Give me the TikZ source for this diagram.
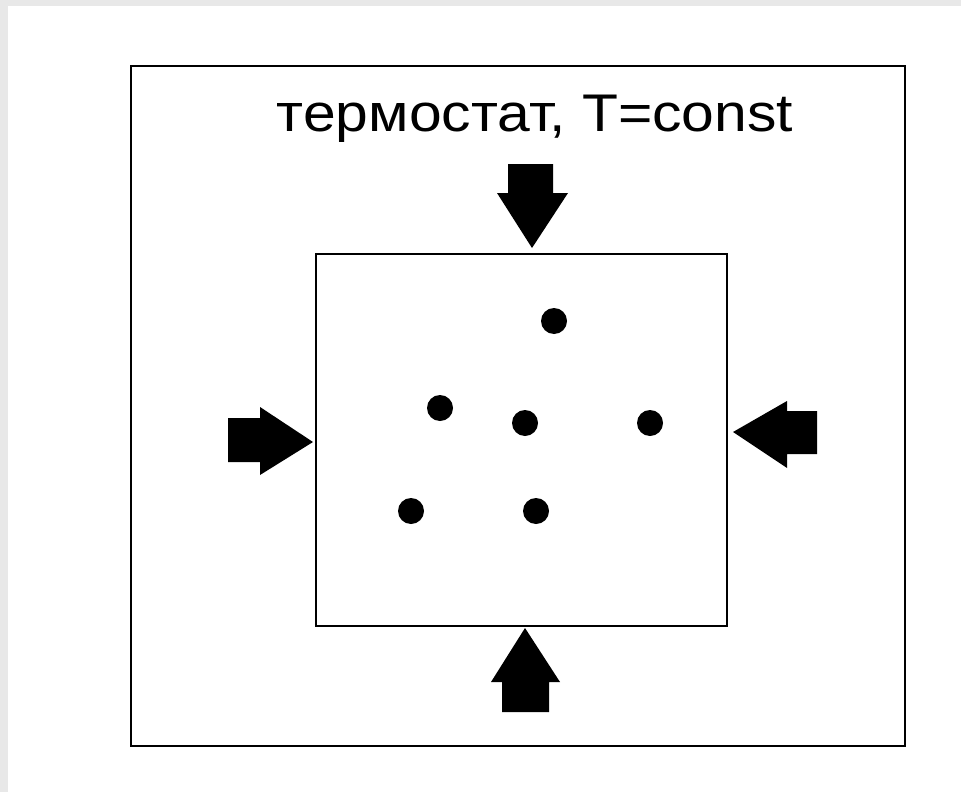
\documentclass[tikz,border=0pt]{standalone}
\usepackage{fontspec}
\setmainfont{Liberation Sans}
\begin{document}
\begin{tikzpicture}[x=1pt,y=-1pt,
  frame/.style={draw=black,line width=2pt},
  blockarrow/.style={fill=black,draw=none},
  particle/.style={circle,fill=black,inner sep=0pt,minimum size=26pt}]
\useasboundingbox (0,0) rectangle (961,792);
\fill[white] (0,0) rectangle (961,792);
% gray page edge
\fill[black!9] (0,0) rectangle (961,6);
\fill[black!9] (0,0) rectangle (8,792);
% thermostat and system
\draw[frame] (131,66) rectangle (905,746);
\draw[frame] (316,254) rectangle (727,626);
\node[font=\fontsize{53}{60}\selectfont,anchor=base,inner sep=0pt] (label) at (535,131) {\scalebox{1.11}[1]{термостат, T=const}};
% arrows
\fill[blockarrow] (508,164) -- (553,164) -- (553,193) -- (568,193) -- (532,248) -- (497,193) -- (508,193) -- cycle;
\fill[blockarrow] (228,418) -- (260,418) -- (260,407) -- (313,442) -- (260,475) -- (260,462) -- (228,462) -- cycle;
\fill[blockarrow] (817,411) -- (787,411) -- (787,401) -- (733,432) -- (787,468) -- (787,454) -- (817,454) -- cycle;
\fill[blockarrow] (502,712) -- (549,712) -- (549,682) -- (560,682) -- (525,628) -- (491,682) -- (502,682) -- cycle;
% particles
\node[particle] (p1) at (554,321) {};
\node[particle] (p2) at (440,408) {};
\node[particle] (p3) at (525,423) {};
\node[particle] (p4) at (650,423) {};
\node[particle] (p5) at (411,511) {};
\node[particle] (p6) at (536,511) {};
\end{tikzpicture}
\end{document}
